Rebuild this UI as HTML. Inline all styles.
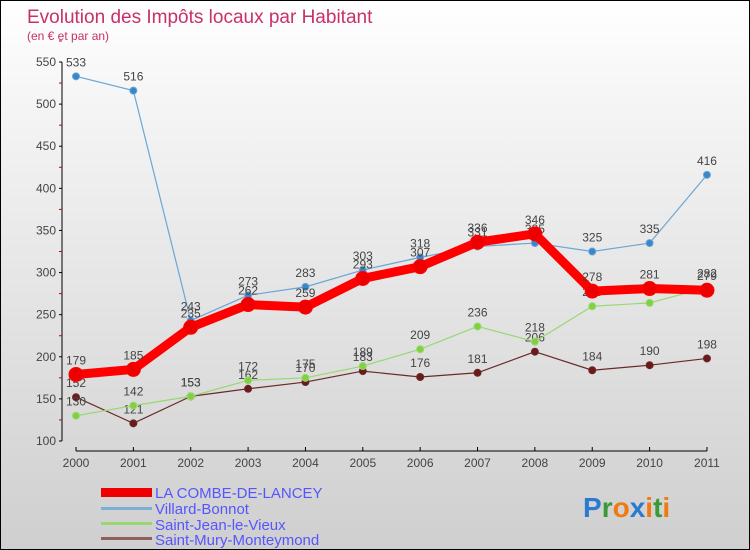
<!DOCTYPE html>
<html><head><meta charset="utf-8"><style>
body{margin:0}
#c{width:748px;height:548px;border:1px solid #000;background:linear-gradient(#fff,#f4f4f4 20%,#cfcfcf);position:relative;font-family:"Liberation Sans",sans-serif;overflow:hidden}
</style></head><body>
<div id="c">
<svg id="s" width="748" height="548" style="position:absolute;left:0;top:0">
<text x="26" y="22" font-size="19" fill="#c8306a">Evolution des Impôts locaux par Habitant</text>
<text x="26" y="39" font-size="12" fill="#c8306a">(en € et par an)</text>
<g id="axes"></g><g id="series"></g>
<g>
<rect x="100" y="487" width="51" height="9" fill="#e00"/>
<text x="154" y="497" font-size="15" fill="#55f">LA COMBE-DE-LANCEY</text>
<rect x="100" y="506" width="51" height="3" fill="#7ab0d8"/>
<text x="154" y="513" font-size="15" fill="#55f">Villard-Bonnot</text>
<rect x="100" y="521" width="51" height="3" fill="#99d870"/>
<text x="154" y="529" font-size="15" fill="#55f">Saint-Jean-le-Vieux</text>
<rect x="100" y="536" width="51" height="3" fill="#906060"/>
<text x="154" y="544" font-size="15" fill="#55f">Saint-Mury-Monteymond</text>
</g>
<text x="582" y="516" font-size="28" font-weight="bold"><tspan fill="#2a7bd0">P</tspan><tspan fill="#3a9a3a">r</tspan><tspan fill="#f07a10">o</tspan><tspan fill="#2a7bd0">x</tspan><tspan fill="#f07a10">i</tspan><tspan fill="#3a9a3a">t</tspan><tspan fill="#f07a10">i</tspan></text>
</svg>
</div>
<script>
const years=["2000","2001","2002","2003","2004","2005","2006","2007","2008","2009","2010","2011"];
const yTicks=[100,150,200,250,300,350,400,450,500,550];
const combe=[179,185,235,262,259,293,307,336,346,278,281,279];
const villard=[533,516,243,273,283,303,318,331,335,325,335,416];
const stJean=[130,142,153,172,175,189,209,236,218,260,264,282];
const stMury=[152,121,153,162,170,183,176,181,206,184,190,198];
const NS="http://www.w3.org/2000/svg";
function X(i){return 75+i*57.36;}
function Y(v){return 440-(v-100)*(379/450);}
function mk(t,a,p){const e=document.createElementNS(NS,t);for(const k in a)e.setAttribute(k,a[k]);p.appendChild(e);return e;}
const ax=document.getElementById('axes');
let l=mk('line',{x1:61,y1:Y(550),x2:61,y2:Y(100),stroke:'#000'},ax);


yTicks.forEach(v=>{
 mk('line',{x1:58,y1:Y(v),x2:61,y2:Y(v),stroke:'#000'},ax);
 mk('line',{x1:58,y1:Y(v+25),x2:61,y2:Y(v+25),stroke:'#c00'},ax);
 const t=mk('text',{x:55,y:Y(v)+4,'font-size':12,'text-anchor':'end',fill:'#444'},ax);t.textContent=v;
 
 
});
l=mk('line',{x1:X(0),y1:450,x2:X(11),y2:450,stroke:'#000'},ax);


years.forEach((y,i)=>{
 mk('line',{x1:X(i),y1:446,x2:X(i),y2:450,stroke:'#000'},ax);
 const t=mk('text',{x:X(i),y:466,'font-size':12,'text-anchor':'middle',fill:'#444'},ax);t.textContent=y;
 
 
});
const sg=document.getElementById('series');
function draw(data,name,color,dot,w,r){
 const g=mk('g',{},sg);
 
 
 const p=mk('polyline',{points:data.map((v,i)=>X(i)+','+Y(v)).join(' '),fill:'none',stroke:color,'stroke-width':w,'stroke-linejoin':'round'},g);
 
 
 data.forEach((v,i)=>{
  const c=mk('circle',{cx:X(i),cy:Y(v),r:r,fill:dot,stroke:color,'stroke-width':1},g);
  
  
  const t=mk('text',{x:X(i),y:Y(v)-10,'font-size':12,'text-anchor':'middle',fill:'#444'},g);t.textContent=v;
  
  
 });
}
draw(stMury,'saint-mury','#6a2a2a','#6a1a1a',1.2,3.5);
draw(stJean,'saint-jean','#99d870','#80d040',1.2,3.5);
draw(villard,'villard','#6aa6d6','#3a86c6',1.2,3.5);
draw(combe,'combe','#f00','#e00',9,7);
</script>
</body></html>
